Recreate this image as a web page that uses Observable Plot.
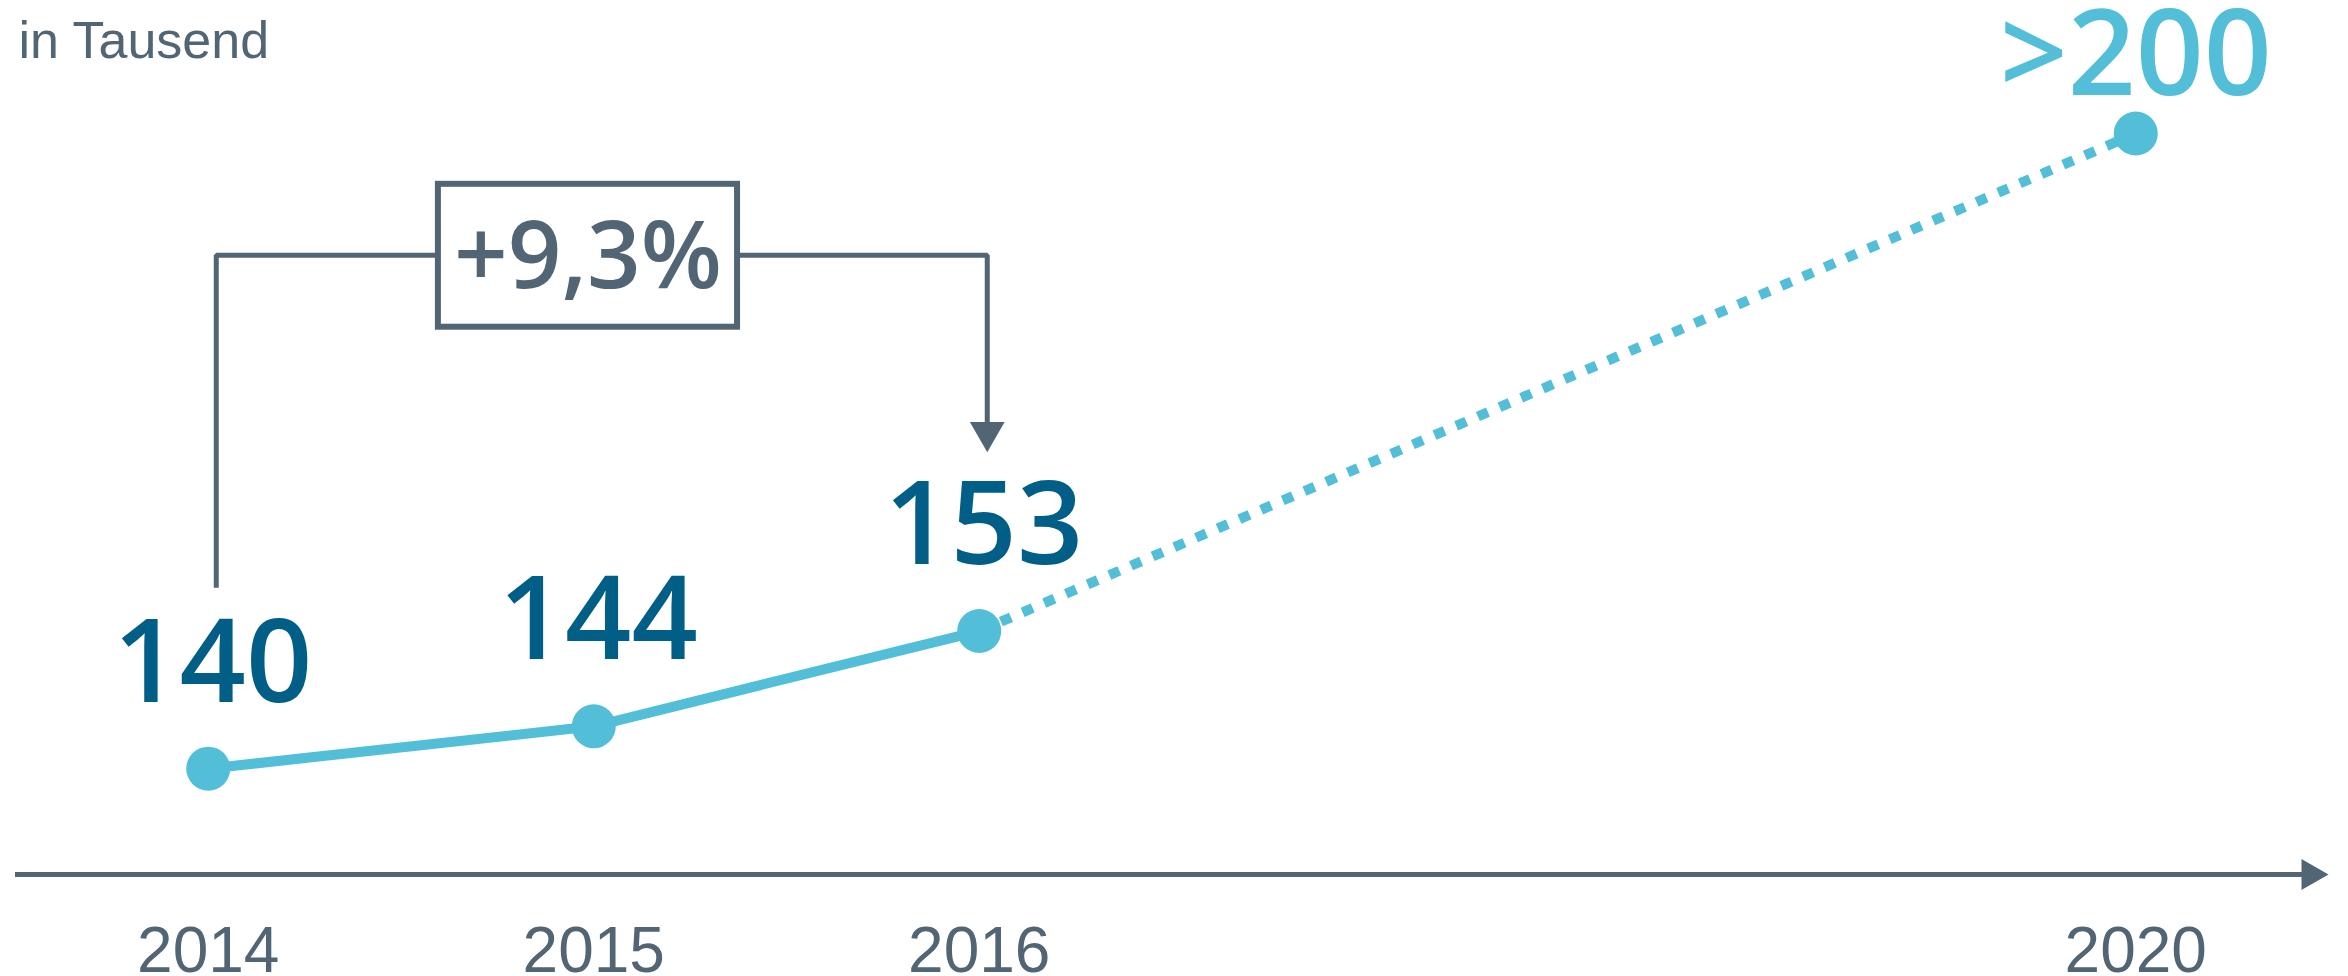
<!DOCTYPE html>
<html><head><meta charset="utf-8">
<script src="https://cdn.jsdelivr.net/npm/d3@7"></script>
<script src="https://cdn.jsdelivr.net/npm/@observablehq/plot@0.6"></script>
<style>html,body{margin:0;padding:0;background:#fff;} svg{display:block}</style>
</head><body><div id="chart"></div>
<script>
// ---- data ----
const years = ["2014", "2015", "2016", "2020"];
const slots = [0, 1, 2, 5];            // order of each year on the compressed time axis
const values = [140, 144, 153, 200];   // in thousands
const valueLabels = ["140", "144", "153", ">200"];
const projected = [false, false, false, true];
const unitLabel = "in Tausend";
const growthLabel = "+9,3%";
const growthFrom = 0, growthTo = 2;     // indices into the arrays above (2014 -> 2016)
const baseValue = 130;                 // value at the time axis

// annotation levels (value units / slot units)
const bracketBottom = 157.1, bracketLevel = 188.5, bracketTip = 169.9;
const boxLeft = 0.597, boxRight = 1.373, boxBottom = 181.7, boxTop = 195.2, growthBaseline = 185.4;

const grey = "#526575", dark = "#005e87", light = "#52bed8";

const rows = years.map((y, i) => ({year: y, slot: slots[i], value: values[i], label: valueLabels[i], projected: projected[i]}));
const actual = rows.filter(d => !d.projected);
const lastActual = actual[actual.length - 1];
const forecast = [lastActual, ...rows.filter(d => d.projected)];

const bracket = [
  {x: slots[growthFrom], y: bracketBottom},
  {x: slots[growthFrom], y: bracketLevel},
  {x: slots[growthTo], y: bracketLevel},
  {x: slots[growthTo], y: bracketTip + 2.1}
];

const chart = Plot.plot({
  width: 2348,
  height: 976,
  marginLeft: 15,
  marginRight: 20,
  marginTop: 133,
  marginBottom: 102,
  style: {fontFamily: "Liberation Sans", background: "#fff"},
  x: {type: "linear", domain: [-0.5, 5.5]},
  y: {domain: [baseValue, 200], axis: null},
  marks: [
    // time axis with arrow
    Plot.ruleY([baseValue], {stroke: grey, strokeWidth: 5, insetRight: 10}),
    Plot.dot([baseValue], {x: () => 5.5, y: d => d, symbol: "triangle", rotate: 90, r: 11.6, dx: -18, fill: grey, stroke: null}),
    Plot.axisX(slots, {
      tickSize: 0, tickPadding: 52, fontSize: 64, fontFamily: "Liberation Sans", color: grey,
      tickFormat: d => years[slots.indexOf(d)], label: null
    }),
    // unit label
    Plot.text([unitLabel], {frameAnchor: "top-left", dx: 3, dy: -76, lineAnchor: "bottom", textAnchor: "start",
      fontSize: 52, fontFamily: "Liberation Sans", fill: grey}),
    // growth bracket
    Plot.line(bracket, {x: "x", y: "y", dx: 8, stroke: grey, strokeWidth: 5, strokeLinecap: "butt", strokeLinejoin: "miter"}),
    Plot.dot([bracketTip], {x: () => slots[growthTo], y: d => d, dx: 8, dy: -20, symbol: "triangle", rotate: 180, r: 12.9, fill: grey, stroke: null}),
    Plot.rect([growthLabel], {x1: () => boxLeft, x2: () => boxRight, y1: () => boxBottom, y2: () => boxTop,
      fill: "#fff", stroke: grey, strokeWidth: 6}),
    Plot.text([growthLabel], {x: () => (boxLeft + boxRight) / 2, y: () => growthBaseline, text: d => d, lineAnchor: "bottom",
      fontSize: 94, fontWeight: 600, fontFamily: "Open Sans", fill: grey}),
    // series
    Plot.line(actual, {x: "slot", y: "value", stroke: light, strokeWidth: 10}),
    Plot.line(forecast, {x: "slot", y: "value", stroke: light, strokeWidth: 10, strokeDasharray: "11,12.6", strokeLinecap: "butt"}),
    Plot.dot(rows, {x: "slot", y: "value", r: 22, fill: light, stroke: null}),
    // value labels
    Plot.text(actual, {x: "slot", y: "value", text: "label", dx: 4.5, dy: -67, lineAnchor: "bottom",
      fontSize: 116, fontWeight: 600, fontFamily: "Open Sans", fill: dark}),
    Plot.text(rows.filter(d => d.projected), {x: "slot", y: "value", text: "label", dy: -39, lineAnchor: "bottom",
      fontSize: 119, fontWeight: 600, fontFamily: "Open Sans", fill: light})
  ]
});
document.getElementById("chart").append(chart);
</script>
</body></html>
